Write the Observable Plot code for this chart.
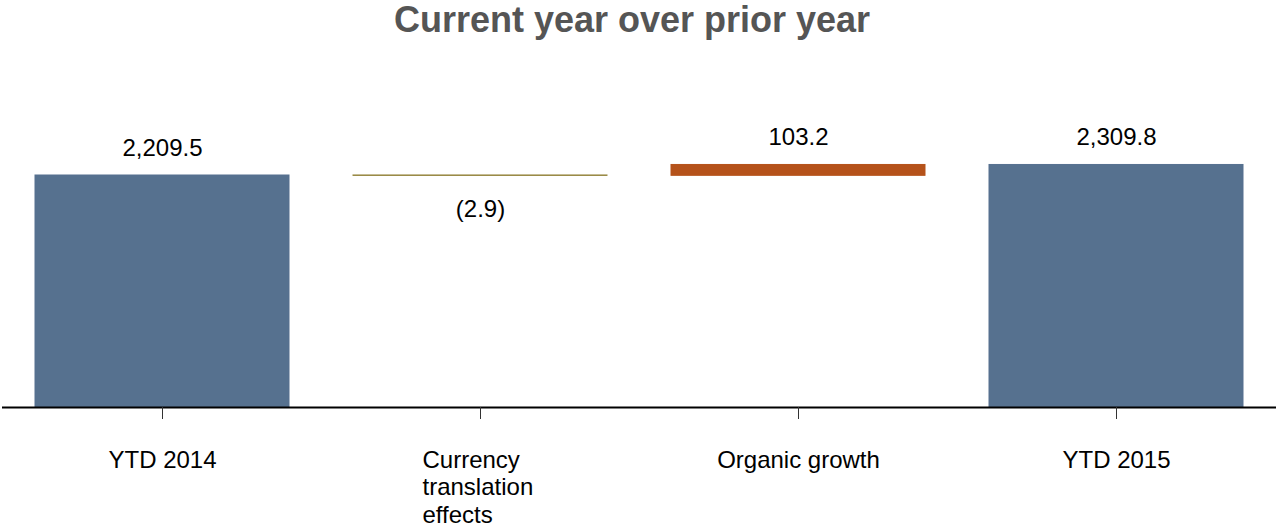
<!DOCTYPE html>
<html>
<head>
<meta charset="utf-8">
<script src="https://cdn.jsdelivr.net/npm/d3@7"></script>
<script src="https://cdn.jsdelivr.net/npm/@observablehq/plot@0.6"></script>
<style>
  html, body { margin: 0; padding: 0; background: #fff; }
  #title { height: 60px; font: bold 36px "Liberation Sans", Arial, sans-serif; line-height: 40px; color: #555; text-align: center; width: 1264px; }
  svg { display: block; }
</style>
</head>
<body>
<div id="title">Current year over prior year</div>
<div id="chart"></div>
<script>
const categories = ["YTD 2014", "Currency translation effects", "Organic growth", "YTD 2015"];
const values = [2209.5, -2.9, 103.2, 2309.8];
const kinds = ["total", "delta", "delta", "total"];
const valueLabels = ["2,209.5", "(2.9)", "103.2", "2,309.8"];
const tickLabels = ["YTD 2014", "Currency\ntranslation\neffects", "Organic growth", "YTD 2015"];
const barColors = ["#56718f", "#8b7a2b", "#b5521a", "#56718f"];

let running = 0;
const rows = categories.map((c, i) => {
  let y1, y2;
  if (kinds[i] === "total") { y1 = 0; y2 = values[i]; running = values[i]; }
  else { y1 = running; y2 = running + values[i]; running = y2; }
  return { cat: c, y1, y2, top: Math.max(y1, y2), bottom: Math.min(y1, y2), neg: values[i] < 0, label: valueLabels[i], tick: tickLabels[i], color: barColors[i] };
});

const font = "Liberation Sans, Arial, sans-serif";
const chart = Plot.plot({
  width: 1276,
  height: 465,
  marginTop: 32,
  marginBottom: 118,
  marginLeft: 2,
  marginRight: 0,
  style: { fontFamily: font, background: "#fff", color: "#000" },
  x: { domain: categories, paddingInner: 0.2, paddingOuter: 0.1, label: null },
  y: { domain: [0, 3000], axis: null },
  color: { type: "identity" },
  marks: [
    Plot.barY(rows, { x: "cat", y1: "y1", y2: "y2", fill: "color", stroke: "color", strokeWidth: 1 }),
    Plot.ruleY([0], { stroke: "#000", strokeWidth: 2 }),
    Plot.axisX({ tickSize: 12, tickFormat: () => "", stroke: "#333", tickPadding: 0, label: null }),
    Plot.text(rows.filter(d => !d.neg), { x: "cat", y: "top", text: "label", lineAnchor: "bottom", dy: -20, fontSize: 24, fill: "#000" }),
    Plot.text(rows.filter(d => d.neg), { x: "cat", y: "bottom", text: "label", lineAnchor: "top", dy: 24, fontSize: 24, fill: "#000" }),
    Plot.text(rows.filter(d => !d.tick.includes("\n")), { x: "cat", y: () => 0, text: "tick", lineAnchor: "top", dy: 43, fontSize: 24, fill: "#000" }),
    Plot.text(rows.filter(d => d.tick.includes("\n")), { x: "cat", y: () => 0, text: "tick", lineAnchor: "top", textAnchor: "start", dx: -58, dy: 41, fontSize: 24, lineHeight: 1.14, fill: "#000" })
  ]
});
document.getElementById("chart").append(chart);
</script>
</body>
</html>
